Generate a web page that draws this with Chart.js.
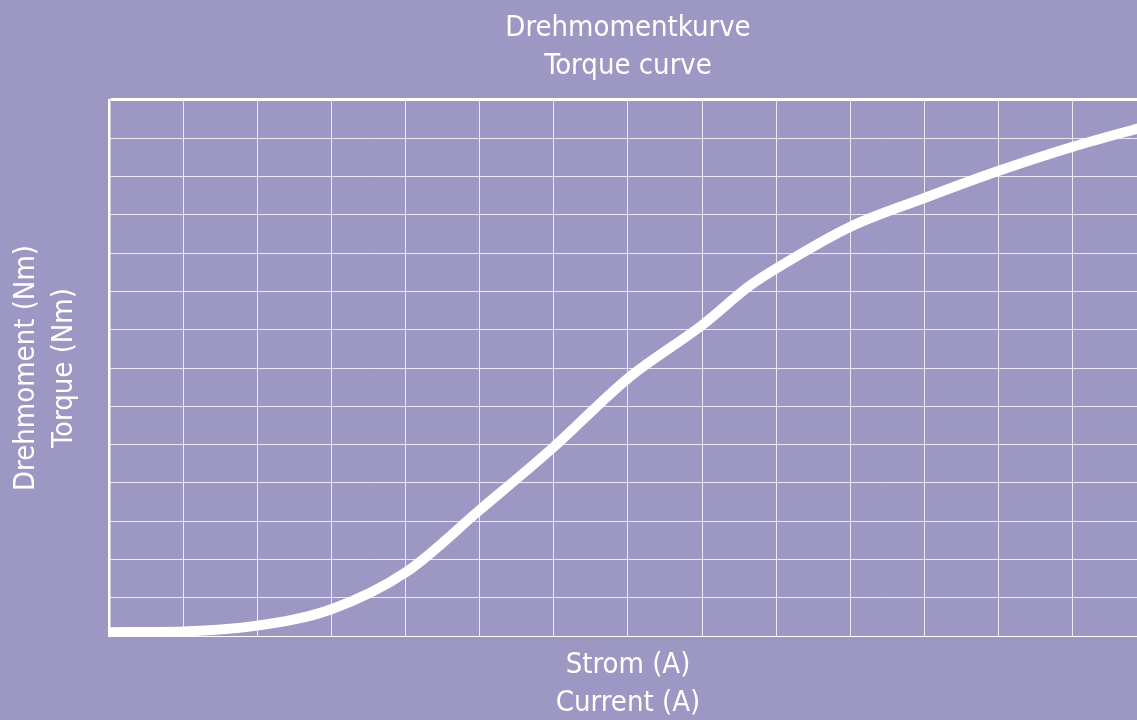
<!DOCTYPE html>
<html>
<head>
<meta charset="utf-8">
<script src="https://cdn.jsdelivr.net/npm/chart.js@4"></script>
<style>
  html, body { margin: 0; padding: 0; overflow: hidden; background: #9c97c3; }
  canvas { display: block; }
</style>
</head>
<body>
<canvas id="torqueChart" width="1256" height="720"></canvas>
<script>
const currentA = [0, 1, 2, 3, 4, 5, 6, 7, 8, 8.65, 9, 10, 11, 12, 13, 14];
const torqueNm = [0.10, 0.12, 0.27, 0.70, 1.66, 3.29, 4.94, 6.73, 8.12, 9.16, 9.60, 10.69, 11.44, 12.15, 12.78, 13.32];

const titleLines = ["Drehmomentkurve", "Torque curve"];
const xTitleLines = ["Strom (A)", "Current (A)"];
const yTitleLines = ["Drehmoment (Nm)", "Torque (Nm)"];

const gridColor = "rgba(255, 255, 255, 0.8)";

Chart.defaults.font.family = "'Liberation Sans Narrow', 'Arial Narrow', 'DejaVu Sans Condensed', sans-serif";
Chart.defaults.font.size = 29;
Chart.defaults.font.lineHeight = 1.293;
Chart.defaults.color = "#ffffff";

const ctx = document.getElementById("torqueChart").getContext("2d");
new Chart(ctx, {
  type: "line",
  data: {
    datasets: [{
      data: currentA.map((x, i) => ({ x, y: torqueNm[i] })),
      borderColor: "#ffffff",
      borderWidth: 10,
      pointRadius: 0,
      cubicInterpolationMode: "monotone",
      fill: false
    }]
  },
  options: {
    responsive: false,
    animation: false,
    layout: { padding: 0 },
    plugins: {
      legend: { display: false },
      tooltip: { enabled: false },
      title: {
        display: true,
        text: titleLines,
        color: "#ffffff",
        font: { size: 29, weight: "normal", lineHeight: 1.293 },
        padding: { top: 10, bottom: 15 }
      }
    },
    scales: {
      x: {
        type: "linear",
        min: 0,
        max: 14,
        ticks: { display: false, stepSize: 1 },
        grid: { color: gridColor, lineWidth: 1, drawTicks: false },
        border: { display: true, color: "#ffffff", width: 1 },
        title: {
          display: true,
          text: xTitleLines,
          color: "#ffffff",
          padding: { top: 11, bottom: -2 }
        }
      },
      y: {
        min: 0,
        max: 14,
        ticks: { display: false, stepSize: 1 },
        grid: {
          color: c => c.tick && c.tick.value === 14 ? "#ffffff" : gridColor,
          lineWidth: c => c.tick && c.tick.value === 14 ? 3 : 1,
          drawTicks: false
        },
        border: { display: true, color: "#ffffff", width: 2.5 },
        title: {
          display: true,
          text: yTitleLines,
          color: "#ffffff",
          padding: { top: 8, bottom: 26 }
        }
      },
      // leere rechte Achse, damit Titel und Diagramm wie im Original sitzen
      yRight: {
        position: "right",
        display: true,
        min: 0,
        max: 14,
        ticks: { display: false },
        grid: { display: false, drawTicks: false },
        border: { display: false },
        afterFit: scale => { scale.width = 109; }
      }
    }
  }
});
</script>
</body>
</html>
